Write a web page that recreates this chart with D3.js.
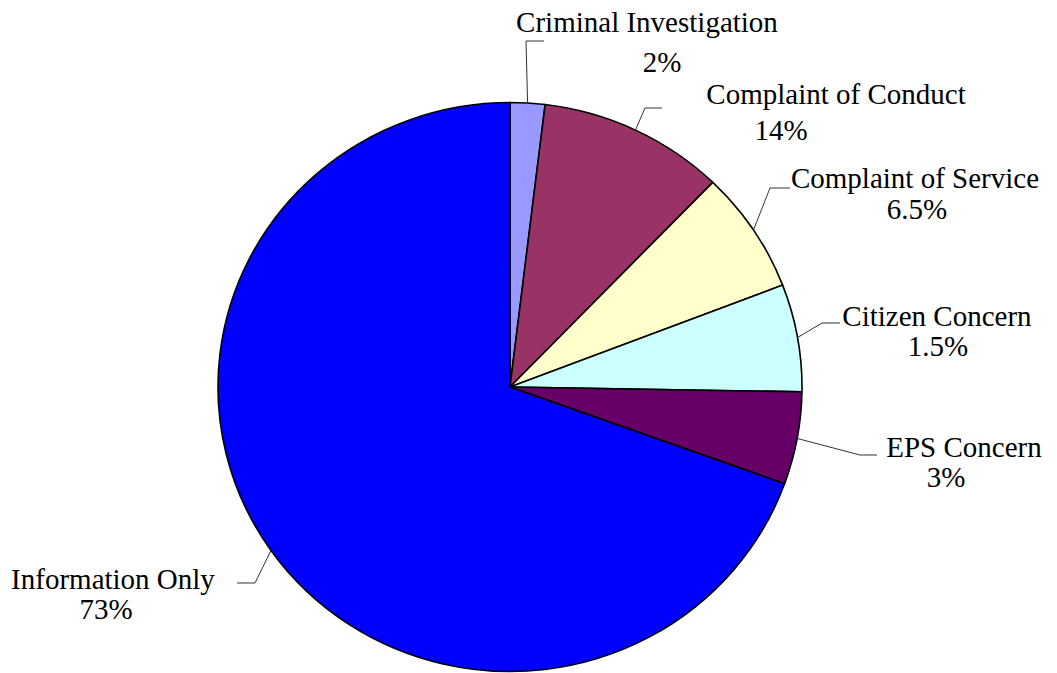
<!DOCTYPE html>
<html>
<head>
<meta charset="utf-8">
<script src="https://cdn.jsdelivr.net/npm/d3@7"></script>
<style>
  html, body { margin: 0; padding: 0; background: #fff; }
  svg { display: block; }
</style>
</head>
<body>
<svg id="chart" width="1057" height="673"></svg>
<script>
// ---- data ----
const categories = ["Criminal Investigation", "Complaint of Conduct", "Complaint of Service",
                    "Citizen Concern", "EPS Concern", "Information Only"];
const sliceValues = [1.92, 10.30, 6.95, 6.10, 5.25, 69.48];
const percentLabels = ["2%", "14%", "6.5%", "1.5%", "3%", "73%"];
const colors = ["#9999FF", "#993366", "#FFFFCC", "#CCFFFF", "#660066", "#0000FF"];

// ---- layout (label placement, leader elbows) ----
const labelLayout = [
  { nameX: 647, nameY: 32,  pctX: 662, pctY: 72,  elbow: [526, 41],  end: [544, 41] },
  { nameX: 836, nameY: 104, pctX: 781, pctY: 140, elbow: [645, 108], end: [662, 108] },
  { nameX: 915, nameY: 188, pctX: 917, pctY: 219, elbow: [770, 188], end: [790, 188] },
  { nameX: 937, nameY: 326, pctX: 938, pctY: 356, elbow: [822, 323], end: [840, 323] },
  { nameX: 964, nameY: 457, pctX: 946, pctY: 487, elbow: [860, 455], end: [877, 455] },
  { nameX: 113, nameY: 589, pctX: 106, pctY: 619, elbow: [255, 583], end: [237, 583] }
];

const cx = 510, cy = 387, rx = 292, ry = 284.5;
const fontFamily = "'Liberation Serif', 'Times New Roman', Times, 'DejaVu Serif', serif";

const svg = d3.select("#chart");
const pie = d3.pie().sort(null).value(d => d)(sliceValues);
const arc = d3.arc().innerRadius(0).outerRadius(rx);

const g = svg.append("g")
  .attr("transform", `translate(${cx},${cy}) scale(1,${ry / rx})`);

g.selectAll("path.slice")
  .data(pie)
  .join("path")
  .attr("class", "slice")
  .attr("d", arc)
  .attr("fill", (d, i) => colors[i])
  .attr("stroke", "#000")
  .attr("stroke-width", 1.6)
  .attr("stroke-linejoin", "round")
  .attr("vector-effect", "non-scaling-stroke");

// leader lines: start at ellipse edge at slice mid-angle
const leaders = svg.append("g");
pie.forEach((d, i) => {
  const mid = (d.startAngle + d.endAngle) / 2;
  const sx = cx + rx * Math.sin(mid);
  const sy = cy - ry * Math.cos(mid);
  const L = labelLayout[i];
  leaders.append("polyline")
    .attr("points", [[sx, sy], L.elbow, L.end].map(p => p.join(",")).join(" "))
    .attr("fill", "none")
    .attr("stroke", "#333")
    .attr("stroke-width", 1);
});

const labels = svg.append("g")
  .attr("font-family", fontFamily)
  .attr("font-size", 29)
  .attr("fill", "#000");
categories.forEach((c, i) => {
  const L = labelLayout[i];
  labels.append("text").attr("x", L.nameX).attr("y", L.nameY)
    .attr("text-anchor", "middle").text(c);
  labels.append("text").attr("x", L.pctX).attr("y", L.pctY)
    .attr("text-anchor", "middle").text(percentLabels[i]);
});
</script>
</body>
</html>
